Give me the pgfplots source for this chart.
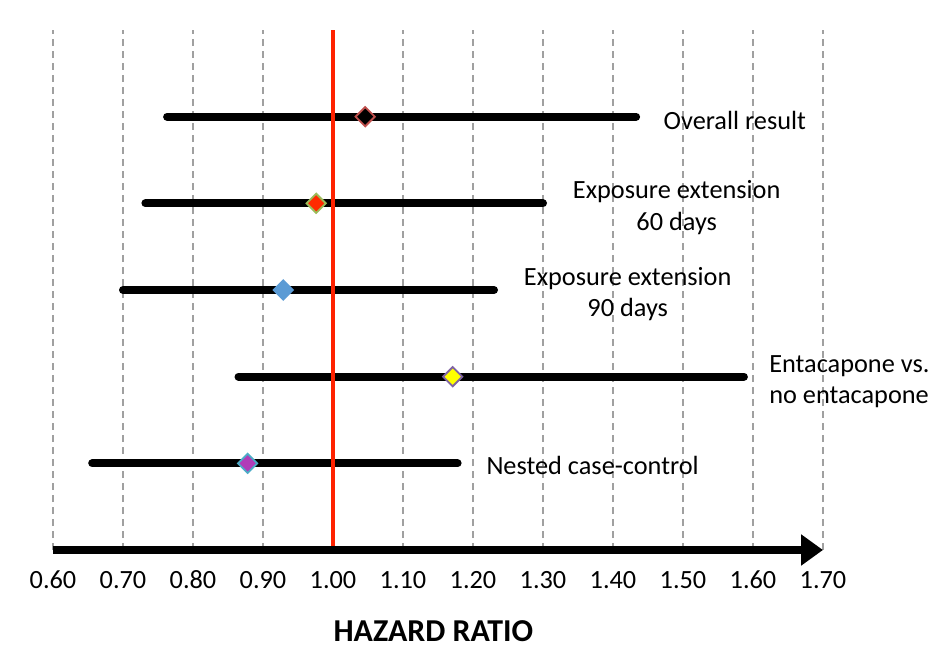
\documentclass[border=0pt]{standalone}
\usepackage{fontspec}
\setmainfont{Carlito}
\usepackage{pgfplots}
\pgfplotsset{compat=1.18}
\usetikzlibrary{arrows.meta}
\definecolor{cRef}{HTML}{FF2200}
\definecolor{cGrid}{HTML}{A0A0A0}
\definecolor{cBrd1}{HTML}{C0504D}
\definecolor{cFill2}{HTML}{FF2A00}
\definecolor{cBrd2}{HTML}{9BBB59}
\definecolor{cFill3}{HTML}{5B9BD5}
\definecolor{cFill4}{HTML}{FFFF00}
\definecolor{cBrd4}{HTML}{8064A2}
\definecolor{cFill5}{HTML}{B03CB8}
\definecolor{cBrd5}{HTML}{4BACC6}

\begin{document}
\fontsize{26.4}{31.5}\selectfont
\begin{tikzpicture}
\useasboundingbox (-53bp,-98bp) rectangle (888bp,550bp);
\begin{axis}[
  at={(0,0)}, anchor=south west,
  scale only axis, width=770bp, height=520bp,
  xmin=0.6, xmax=1.7, ymin=0, ymax=6,
  clip=false,
  axis line style={draw=none},
  major tick length=0pt,
  ytick=\empty,
  xtick={0.6,0.7,0.8,0.9,1.0,1.1,1.2,1.3,1.4,1.5,1.6,1.7},
  xticklabels={0.60,0.70,0.80,0.90,1.00,1.10,1.20,1.30,1.40,1.50,1.60,1.70},
  xticklabel style={anchor=center, yshift=-30bp, font=\fontsize{26.4}{31.5}\selectfont},
  xmajorgrids,
  grid style={cGrid, line width=1.5bp, dash pattern=on 7bp off 5bp},
  xlabel={\fontsize{32}{34}\selectfont\bfseries HAZARD RATIO},
  xlabel style={at={(axis description cs:0.494,0)}, anchor=center, inner sep=0pt, yshift=-81bp},
  ci/.style={black, line width=8bp, line cap=round, no marks},
  hr/.style 2 args={only marks, mark=square*, mark size=6.8bp,
    mark options={rotate=45, line width=1.8bp, fill=#1, draw=#2}},
]
% confidence intervals
\addplot[ci] coordinates {(0.763,5) (1.433,5)};
\addplot[ci] coordinates {(0.732,4) (1.30,4)};
\addplot[ci] coordinates {(0.70,3) (1.23,3)};
\addplot[ci] coordinates {(0.865,2) (1.587,2)};
\addplot[ci] coordinates {(0.656,1) (1.178,1)};
% reference line at HR = 1
\addplot[cRef, line width=4bp, no marks] coordinates {(1,0) (1,6)};
% point estimates
\addplot[hr={black}{cBrd1}] coordinates {(1.046,5)};
\addplot[hr={cFill2}{cBrd2}] coordinates {(0.976,4)};
\addplot[hr={cFill3}{cFill3}] coordinates {(0.929,3)};
\addplot[hr={cFill4}{cBrd4}] coordinates {(1.171,2)};
\addplot[hr={cFill5}{cBrd5}] coordinates {(0.878,1)};
% x axis arrow
\draw[black, line width=8bp, -{Triangle[length=22bp, width=30bp]}]
  (axis cs:0.6,0) -- (axis cs:1.7,0);
% labels
\node at (axis cs:1.574,4.96) {Overall result};
\node[align=center] at (axis cs:1.491,3.95) {Exposure extension\\60 days};
\node[align=center] at (axis cs:1.421,2.95) {Exposure extension\\90 days};
\node[align=left, anchor=west, inner sep=0pt] at (axis cs:1.623,1.94) {Entacapone vs.\\no entacapone};
\node[anchor=west, inner sep=0pt] at (axis cs:1.219,0.97) {Nested case-control};
\end{axis}
\end{tikzpicture}
\end{document}
